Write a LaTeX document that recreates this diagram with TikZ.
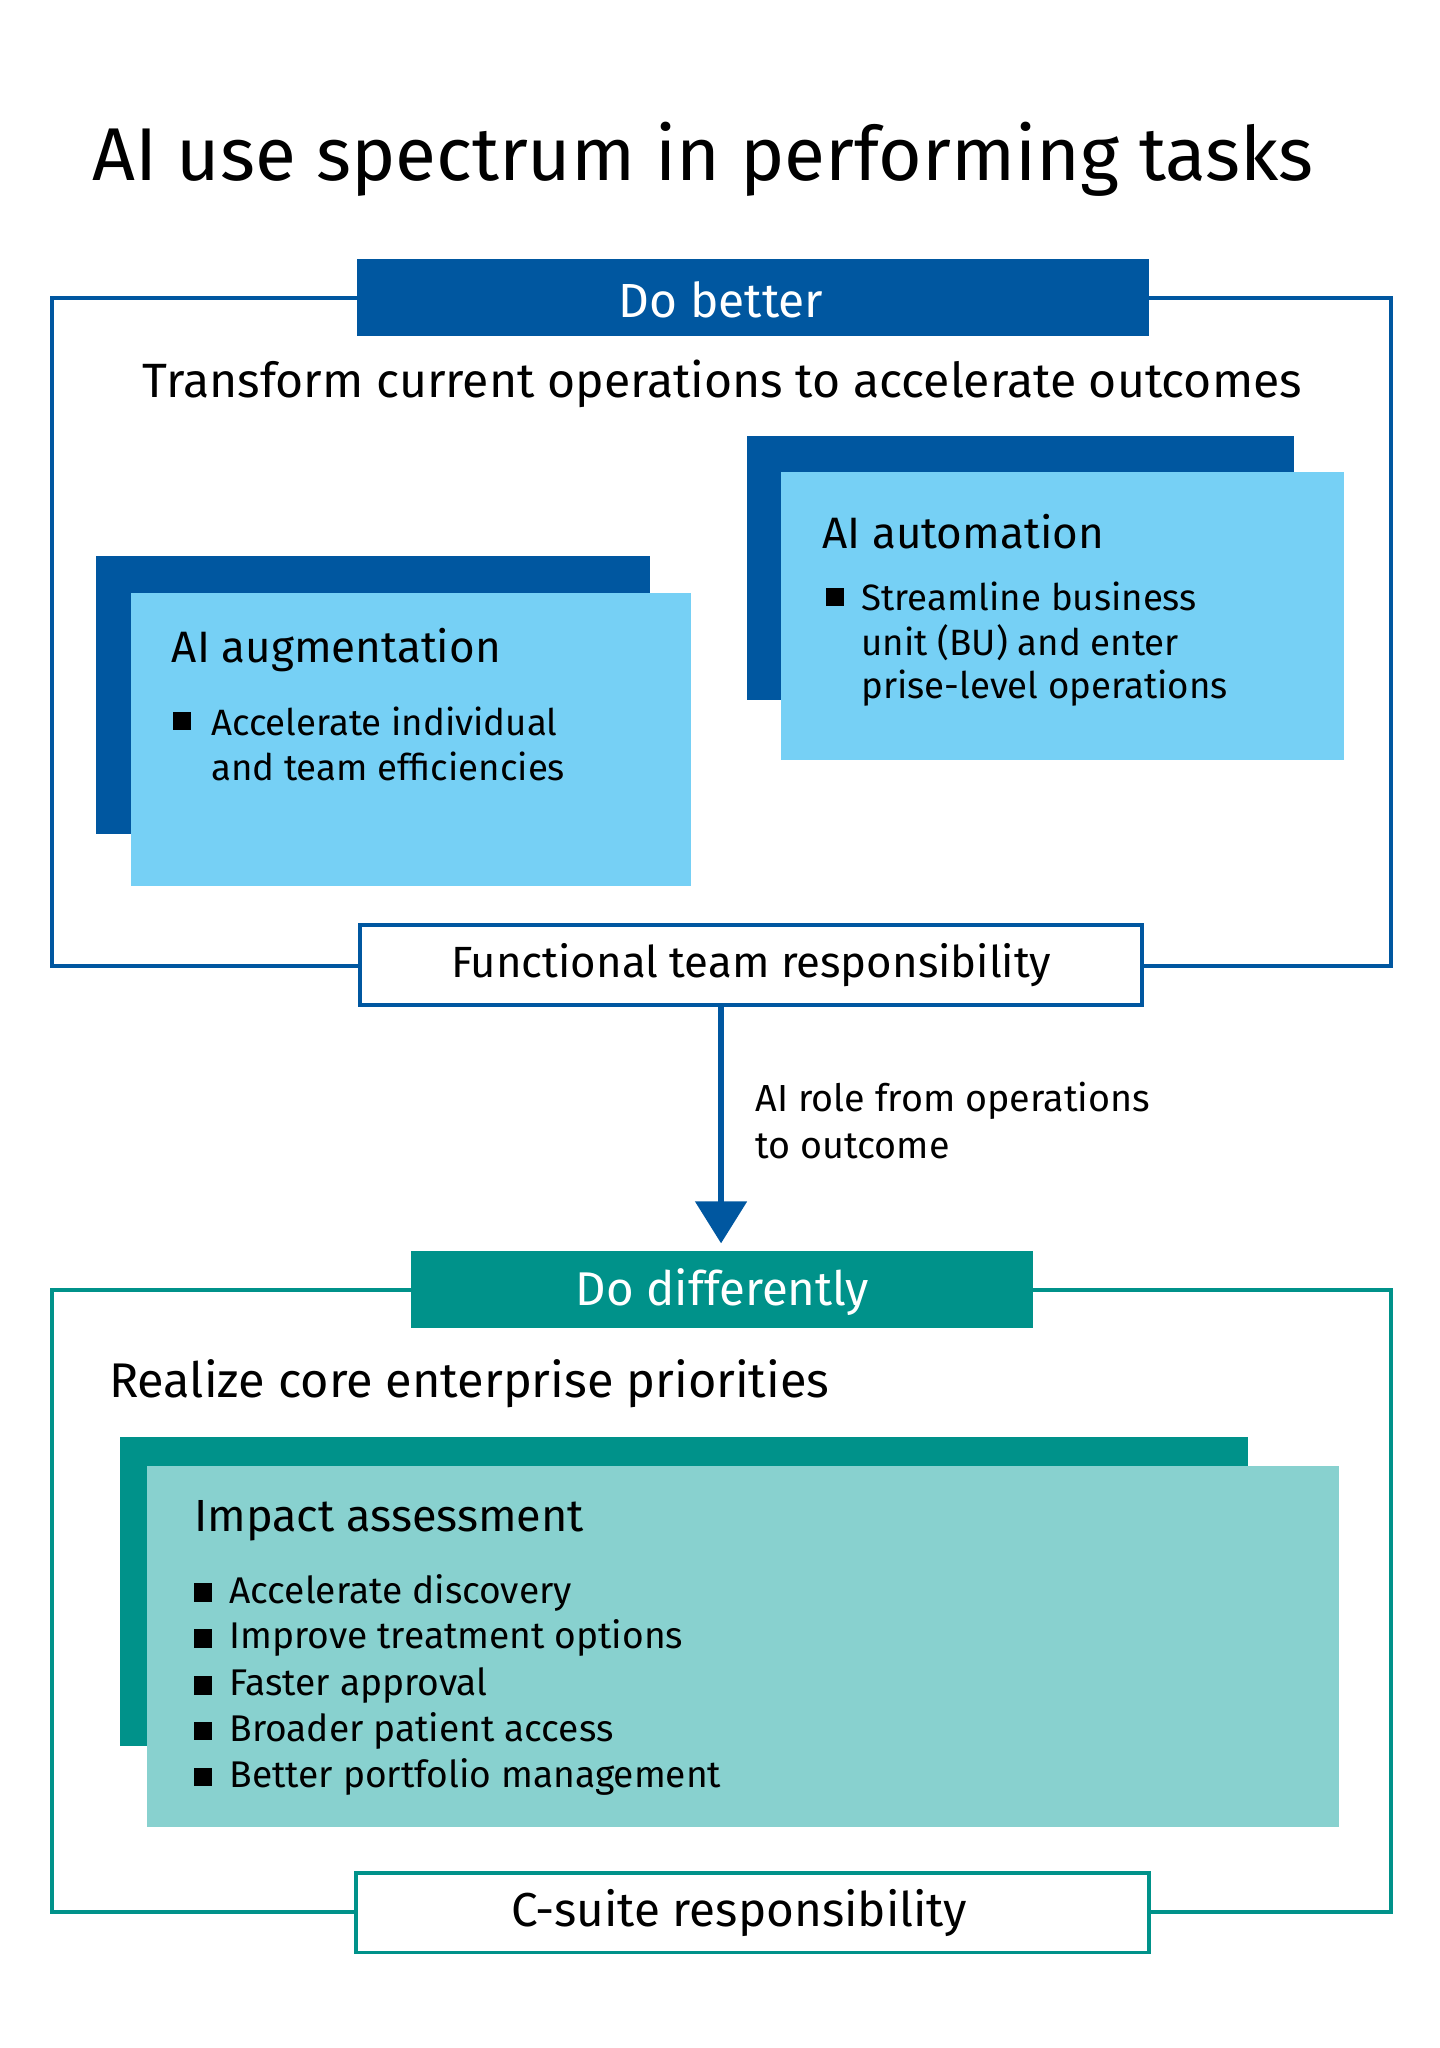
\documentclass[tikz,border=0pt]{standalone}
\usepackage{fontspec}
\setmainfont{Fira Sans}
\definecolor{dblue}{HTML}{0057A0}
\definecolor{lblue}{HTML}{76D0F5}
\definecolor{teal}{HTML}{00928A}
\definecolor{lteal}{HTML}{88D1CF}
\begin{document}
\begin{tikzpicture}[x=0.5pt,y=-0.5pt,
  body/.style={font=\fontsize{14}{17.6}\selectfont,anchor=west,inner sep=0},
  head/.style={font=\fontsize{16.8}{20}\selectfont,anchor=west,inner sep=0},
  bul/.style={fill=black,minimum size=7pt,inner sep=0,anchor=center}]
\useasboundingbox (0,0) rectangle (1100,1565);
\node[font=\fontsize{28.6}{32}\selectfont,anchor=west,inner sep=0] (title) at (70,122) {AI use spectrum in performing tasks};
% upper
\draw[dblue,line width=1.5pt] (40,228) rectangle (1063,738);
\fill[dblue] (273,198) rectangle (878,257);
\node[text=white,inner sep=0,font=\fontsize{18.3}{20}\selectfont] (db) at (551,229) {Do better};
\node[font=\fontsize{18.4}{20}\selectfont,inner sep=0] (sub1) at (552,293) {Transform current operations to accelerate outcomes};
\fill[dblue] (73,425) rectangle (497,637);
\fill[lblue] (100,453) rectangle (528,677);
\node[head] (aug) at (131,497) {AI augmentation};
\node[bul] (b1) at (139,551) {};
\node[body] (t1) at (161,551) {Accelerate individual};
\node[body] (t1b) at (161,586) {and team efficiencies};
\fill[dblue] (571,333) rectangle (989,535);
\fill[lblue] (597,361) rectangle (1027,581);
\node[head] (aut) at (628,406) {AI automation};
\node[bul] (b2) at (638,456) {};
\node[body] (t2) at (658,456) {Streamline business};
\node[body] (t2b) at (658,491) {unit (BU) and enter};
\node[body] (t2c) at (658,526) {prise-level operations};
\node[draw=dblue,line width=1.5pt,fill=white,minimum width=299pt,minimum height=30.5pt,font=\fontsize{16.7}{20}\selectfont] (ftr) at (574,737.5) {Functional team responsibility};
% arrow
\coordinate (tip) at (551,950);
\draw[dblue,line width=2.5pt] (ftr.south -| tip) -- (551,920);
\fill[dblue] (531,918) -- (571,918) -- (tip) -- cycle;
\node[body,font=\fontsize{14.4}{17.6}\selectfont] (lab1) at (577,841) {AI role from operations};
\node[body,font=\fontsize{14.4}{17.6}\selectfont] (lab2) at (577,876) {to outcome};
% lower
\draw[teal,line width=1.5pt] (40,986) rectangle (1063,1461);
\fill[teal] (314,956) rectangle (789,1015);
\node[text=white,inner sep=0,font=\fontsize{18.1}{20}\selectfont] (dd) at (552,987) {Do differently};
\node[head,font=\fontsize{18.6}{20}\selectfont] (sub2) at (83,1057) {Realize core enterprise priorities};
\fill[teal] (92,1098) rectangle (954,1334);
\fill[lteal] (112,1120) rectangle (1023,1396);
\node[head,font=\fontsize{17.2}{20}\selectfont] (imp) at (148,1162) {Impact assessment};
\foreach \y/\t [count=\i] in {1217/Accelerate discovery,1252/Improve treatment options,1288/Faster approval,1323/Broader patient access,1358/Better portfolio management}{
  \node[bul] (ib\i) at (155,\y) {};
  \node[body,font=\fontsize{14.2}{17.6}\selectfont] (it\i) at (175,\y) {\t};
}
\draw[teal,line width=1.5pt,fill=white] (272,1431) rectangle (878,1492);
\node[inner sep=0,font=\fontsize{18.2}{20}\selectfont] (cs) at (565,1462) {C-suite responsibility};
\end{tikzpicture}
\end{document}
